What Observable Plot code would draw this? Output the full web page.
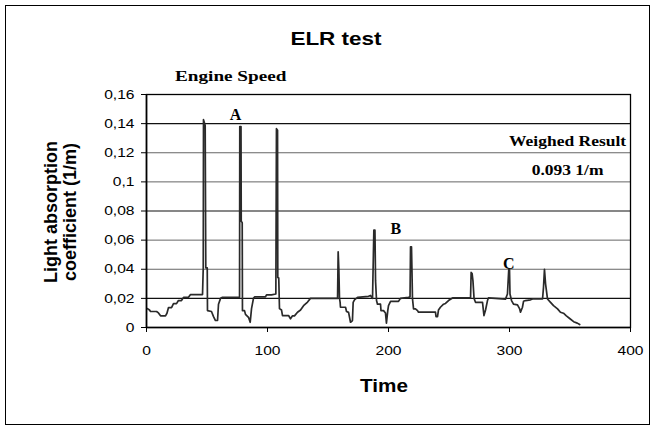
<!DOCTYPE html>
<html><head><meta charset="utf-8">
<script src="https://cdn.jsdelivr.net/npm/d3@7"></script>
<script src="https://cdn.jsdelivr.net/npm/@observablehq/plot@0.6"></script>
<style>body{margin:0;background:#fff}#chart{width:655px;height:429px}</style>
</head><body><div id="chart"></div>
<script>
const time = [
  0.8,2.5,3.3,8.3,9.9,11.6,15.7,16.9,18.2,20.7,
  22.3,24.8,26.4,28.9,30.6,34.7,36.4,46.3,46.9,47.1,
  48.5,49.0,50.2,50.4,53.7,55.4,57.0,58.7,59.5,61.2,
  62.8,76.9,77.1,78.1,78.3,79.1,79.3,81.0,81.8,84.3,
  85.7,86.8,88.4,89.3,98.3,99.2,103.3,106.9,107.4,108.3,
  108.5,109.3,109.9,111.6,112.4,117.4,119.0,120.7,122.3,124.8,
  127.3,129.8,133.1,135.5,157.9,158.4,159.0,159.5,160.0,160.3,
  164.5,165.3,167.0,168.6,170.2,170.8,171.9,174.4,183.5,185.1,
  186.8,187.9,188.8,189.3,190.1,190.9,193.4,193.8,195.9,197.5,
  198.3,199.4,200.0,201.7,208.3,209.9,216.5,217.8,218.2,219.0,
  219.4,219.8,220.7,222.3,224.0,224.8,238.8,239.3,240.5,241.3,
  242.9,245.5,247.1,249.6,252.9,267.8,268.3,269.1,269.8,270.7,
  271.9,277.7,278.9,280.2,281.8,282.6,296.7,298.3,299.4,300.0,
  300.4,301.7,303.3,306.6,308.3,309.1,310.7,311.6,313.2,317.4,
  319.0,327.3,328.1,328.9,329.8,331.4,333.9,336.4,339.7,342.1,
  344.6,347,350,353,356,358
];
const absorption = [
  0.013,0.012,0.011,0.011,0.010,0.008,0.008,0.0098,0.0137,0.0137,
  0.0164,0.0164,0.0185,0.0185,0.0207,0.0207,0.0226,0.0226,0.041,0.1427,
  0.1387,0.041,0.041,0.0116,0.011,0.0075,0.0048,0.0048,0.016,0.02,
  0.0207,0.0207,0.138,0.138,0.073,0.072,0.0116,0.0116,0.009,0.007,
  0.0036,0.013,0.02,0.021,0.021,0.0224,0.0224,0.023,0.1365,0.1355,
  0.0344,0.034,0.013,0.012,0.0082,0.0082,0.006,0.008,0.008,0.0105,
  0.012,0.015,0.0175,0.02,0.02,0.052,0.039,0.02,0.0175,0.0139,
  0.0139,0.011,0.0104,0.0036,0.0048,0.0173,0.019,0.0207,0.0214,0.022,
  0.02,0.0668,0.0668,0.032,0.0185,0.016,0.016,0.0116,0.0116,0.01,
  0.003,0.0116,0.015,0.018,0.018,0.02,0.0207,0.021,0.0554,0.0554,
  0.039,0.02,0.0128,0.0128,0.0116,0.0105,0.0105,0.0075,0.0075,0.012,
  0.0139,0.016,0.0165,0.0185,0.0203,0.0203,0.0378,0.037,0.032,0.02,
  0.0173,0.0173,0.0082,0.012,0.0185,0.0203,0.0195,0.023,0.040,0.040,
  0.023,0.0185,0.016,0.0155,0.013,0.0105,0.0139,0.018,0.0185,0.019,
  0.0196,0.0196,0.0276,0.040,0.030,0.0196,0.0173,0.015,0.0128,0.0105,
  0.0098,0.008,0.006,0.004,0.003,0.002
];
const xTicks = [0,100,200,300,400];
const yTicks = [0,0.02,0.04,0.06,0.08,0.1,0.12,0.14,0.16];
const gridDark = [0.02,0.08,0.14];
const gridLight = [0.04,0.06,0.1,0.12];
const peakLabels = ["A","B","C"];
const peakTimes = [73.5,206,299.5];
const peakValues = [0.146,0.068,0.044];
const resultLines = ["Weighed Result","0.093 1/m"];
const resultTimes = [348,348];
const resultValues = [0.128,0.108];

const series = time.map((t,i)=>({t, v: absorption[i]}));
const peaks = peakLabels.map((l,i)=>({l, t: peakTimes[i], v: peakValues[i]}));
const results = resultLines.map((l,i)=>({l, t: resultTimes[i], v: resultValues[i]}));
const fmt = d => d === 0 ? "0" : String(d).replace(".", ",");
const serif = "'Liberation Serif', 'Times New Roman', serif";
const sans = "'Liberation Sans', Arial, sans-serif";

const chart = Plot.plot({
  width: 655, height: 429,
  marginLeft: 146, marginRight: 25, marginTop: 94, marginBottom: 102,
  style: {fontFamily: sans, fontSize: "13px", background: "#fff", color: "#000"},
  x: {domain: [0,400]},
  y: {domain: [0,0.16]},
  marks: [
    Plot.ruleY(gridLight, {stroke: "#666", strokeWidth: 1}),
    Plot.ruleY(gridDark, {stroke: "#111", strokeWidth: 1.1}),
    Plot.frame({stroke: "#000", strokeWidth: 1.3}),
    Plot.line(series, {x: "t", y: "v", stroke: "#2a2a2a", strokeWidth: 1.7, curve: "linear"}),
    Plot.axisX({ticks: xTicks, tickSize: 5, tickPadding: 13, label: null, fontSize: 13}),
    Plot.axisY({ticks: yTicks, tickFormat: fmt, tickSize: 5, tickPadding: 7, label: null, fontSize: 13}),
    Plot.ruleY([0], {stroke: "#000", strokeWidth: 1.6}),
    Plot.ruleX([0], {stroke: "#000", strokeWidth: 1.6}),
    Plot.text(peaks, {x: "t", y: "v", text: "l", fontFamily: serif, fontWeight: "bold", fontSize: 16, fill: "#000"}),
    Plot.text(results, {x: "t", y: "v", text: "l", fontFamily: serif, fontWeight: "bold", fontSize: 14, fill: "#000"})
  ]
});
document.getElementById("chart").appendChild(chart);

function stretch(el, k) {
  const x = parseFloat(el.getAttribute("x")) || 0, y = parseFloat(el.getAttribute("y")) || 0;
  const t = el.getAttribute("transform") || "";
  el.setAttribute("transform", `${t} translate(${x},${y}) scale(${k},1) translate(${-x},${-y})`);
}
const svg = d3.select(chart);
svg.selectAll("g[aria-label='x-axis tick label'] text, g[aria-label='y-axis tick label'] text")
  .each(function() { stretch(this, 1.2); });
svg.selectAll("g[aria-label='text'] text")
  .each(function() { if (this.textContent.length > 1) stretch(this, 1.25); });

svg.append("rect").attr("x", 5.5).attr("y", 5.5).attr("width", 644).attr("height", 419)
  .attr("fill", "none").attr("stroke", "#000").attr("stroke-width", 1);
svg.append("text").attr("x", 336).attr("y", 45).attr("text-anchor", "middle")
  .attr("font-family", sans).attr("font-weight", "bold").attr("font-size", 18)
  .text("ELR test").each(function() { stretch(this, 1.25); });
svg.append("text").attr("x", 175).attr("y", 81).attr("text-anchor", "start")
  .attr("font-family", serif).attr("font-weight", "bold").attr("font-size", 15)
  .text("Engine Speed").each(function() { stretch(this, 1.28); });
svg.append("text").attr("x", 384).attr("y", 392).attr("text-anchor", "middle")
  .attr("font-family", sans).attr("font-weight", "bold").attr("font-size", 18)
  .text("Time").each(function() { stretch(this, 1.15); });
const ylab = svg.append("text").attr("transform", "translate(57,212) rotate(-90)").attr("text-anchor", "middle")
  .attr("font-family", sans).attr("font-weight", "bold").attr("font-size", 18);
ylab.append("tspan").attr("x", 0).attr("y", 0).text("Light absorption");
ylab.append("tspan").attr("x", 0).attr("y", 19).text("coefficient (1/m)");
</script>
</body></html>
